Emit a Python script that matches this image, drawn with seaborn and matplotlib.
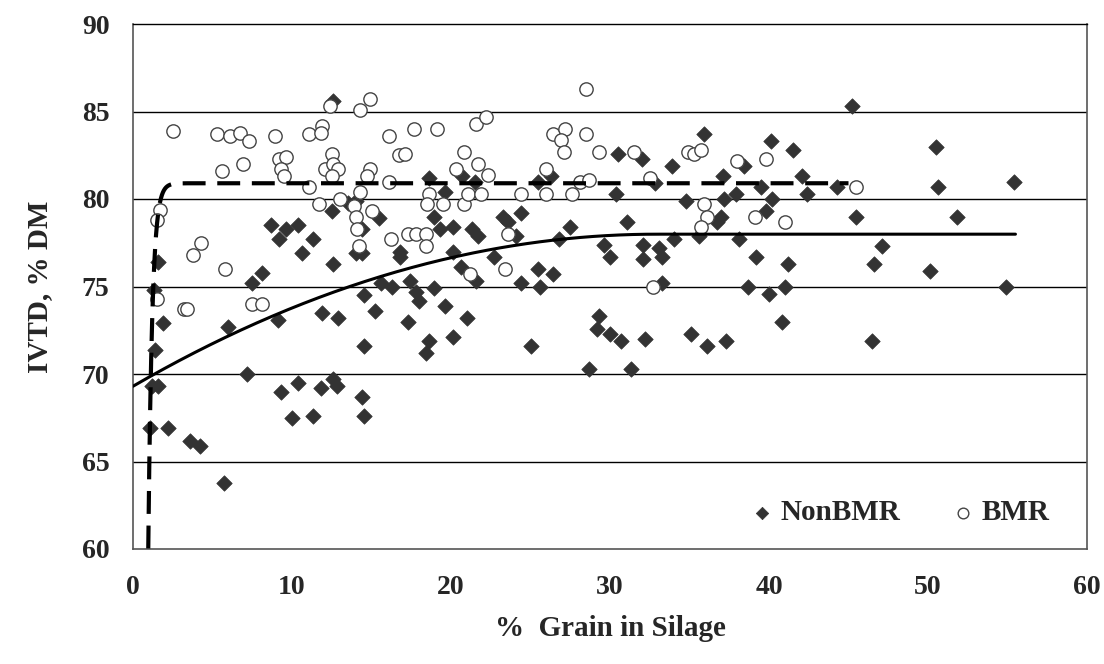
import numpy as np
import pandas as pd
import matplotlib
matplotlib.use("Agg")
import matplotlib.pyplot as plt
import seaborn as sns

# ---------------- data ----------------
nonbmr_x = [8.7, 9.6, 10.4, 9.2, 11.3, 10.6, 1.6, 8.1, 7.5, 1.3, 1.9, 6.0, 9.1, 11.9,
            1.4, 7.2, 1.2, 1.6, 9.3, 10.4, 11.8, 1.1, 2.2, 3.6, 4.2, 10.0, 11.3, 5.7,
            12.6, 18.6, 20.7, 21.5, 19.6, 13.5, 14.0, 12.5, 15.5, 18.9, 20.1, 19.3,
            21.3, 21.7, 23.3, 23.6, 24.4, 14.4, 14.0, 14.4, 16.8, 16.8, 12.6, 20.1,
            22.7, 20.6, 21.6, 15.6, 16.3, 17.4, 18.9, 14.5, 17.8, 18.0, 24.4, 12.9,
            15.2, 17.3, 19.6, 21.0, 14.5, 18.6, 18.4, 20.1, 12.6, 12.8, 14.4, 14.5,
            25.6, 33.3, 29.3, 29.2, 30.0, 30.7, 32.2, 35.1, 36.1, 25.0, 28.7, 31.3,
            38.7, 40.0, 41.0, 54.9, 40.8, 37.3, 46.5, 35.9, 30.5, 32.0, 33.9, 25.5,
            26.3, 32.8, 30.4, 34.8, 24.1, 27.5, 31.1, 26.8, 29.6, 30.0, 32.1, 32.1,
            33.1, 33.3, 34.0, 35.6, 25.5, 26.4, 45.2, 40.1, 41.5, 50.5, 38.4, 37.1,
            42.1, 39.5, 37.9, 42.4, 44.3, 50.6, 55.4, 37.2, 40.2, 39.8, 37.0, 36.7,
            45.5, 51.8, 38.1, 47.1, 39.2, 41.2, 46.6, 50.1]
nonbmr_y = [78.5, 78.3, 78.5, 77.7, 77.7, 76.9, 76.4, 75.8, 75.2, 74.8, 72.9, 72.7, 73.1, 73.5,
            71.4, 70.0, 69.3, 69.3, 69.0, 69.5, 69.2, 66.9, 66.9, 66.2, 65.9, 67.5, 67.6, 63.8,
            85.6, 81.2, 81.3, 81.0, 80.4, 79.8, 79.9, 79.3, 78.9, 79.0, 78.4, 78.3,
            78.3, 77.9, 79.0, 78.7, 79.2, 78.3, 76.9, 76.9, 77.0, 76.7, 76.3, 77.0,
            76.7, 76.1, 75.3, 75.2, 75.0, 75.3, 74.9, 74.5, 74.7, 74.2, 75.2, 73.2,
            73.6, 73.0, 73.9, 73.2, 71.6, 71.9, 71.2, 72.1, 69.7, 69.3, 68.7, 67.6,
            75.0, 75.2, 73.3, 72.6, 72.3, 71.9, 72.0, 72.3, 71.6, 71.6, 70.3, 70.3,
            75.0, 74.6, 75.0, 75.0, 73.0, 71.9, 71.9, 83.7, 82.6, 82.3, 81.9, 81.0,
            81.3, 80.9, 80.3, 79.9, 77.9, 78.4, 78.7, 77.7, 77.4, 76.7, 77.4, 76.6,
            77.2, 76.7, 77.7, 77.9, 76.0, 75.7, 85.3, 83.3, 82.8, 83.0, 81.9, 81.3,
            81.3, 80.7, 80.3, 80.3, 80.7, 80.7, 81.0, 80.0, 80.0, 79.3, 79.0, 78.7,
            79.0, 79.0, 77.7, 77.3, 76.7, 76.3, 76.3, 75.9]

bmr_x = [2.5, 5.3, 6.1, 6.7, 7.3, 8.9, 11.1, 11.9, 11.8, 5.6, 6.9, 9.2, 9.6, 9.3, 9.5,
         11.1, 11.7, 12.1, 1.7, 1.5, 4.3, 3.8, 5.8, 1.5, 3.2, 3.4, 7.5, 8.1,
         14.9, 12.4, 14.3, 16.1, 17.7, 19.1, 21.6, 22.2, 12.5, 12.6, 12.9, 12.5,
         14.9, 14.7, 16.1, 16.7, 17.1, 20.3, 20.8, 21.7, 22.3, 18.6, 18.5, 19.5,
         20.8, 21.1, 21.9, 24.4, 14.3, 13.0, 13.9, 14.0, 15.0, 14.1, 14.2, 16.2,
         17.3, 17.8, 18.4, 18.4, 23.6, 23.4, 21.2,
         28.5, 26.4, 27.2, 26.9, 27.1, 28.5, 29.3, 31.5, 34.9, 35.3, 35.7, 26.0,
         28.1, 28.7, 32.5, 26.0, 27.6, 35.9, 36.1, 35.7, 32.7,
         38.0, 39.8, 45.5, 39.1, 41.0]
bmr_y = [83.9, 83.7, 83.6, 83.8, 83.3, 83.6, 83.7, 84.2, 83.8, 81.6, 82.0, 82.3, 82.4, 81.7, 81.3,
         80.7, 79.7, 81.7, 79.4, 78.8, 77.5, 76.8, 76.0, 74.3, 73.7, 73.7, 74.0, 74.0,
         85.7, 85.3, 85.1, 83.6, 84.0, 84.0, 84.3, 84.7, 82.6, 82.0, 81.7, 81.3,
         81.7, 81.3, 81.0, 82.5, 82.6, 81.7, 82.7, 82.0, 81.4, 80.3, 79.7, 79.7,
         79.7, 80.3, 80.3, 80.3, 80.4, 80.0, 79.6, 79.0, 79.3, 78.3, 77.3, 77.7,
         78.0, 78.0, 78.0, 77.3, 78.0, 76.0, 75.7,
         86.3, 83.7, 84.0, 83.4, 82.7, 83.7, 82.7, 82.7, 82.7, 82.6, 82.8, 81.7,
         81.0, 81.1, 81.2, 80.3, 80.3, 79.7, 79.0, 78.4, 75.0,
         82.2, 82.3, 80.7, 79.0, 78.7]

# fitted trend lines (model parameters)
nonbmr_fit_a, nonbmr_fit_b, nonbmr_fit_c = 69.3, 0.527, -0.00799   # quadratic-plateau
nonbmr_fit_xmax = 55.5
bmr_fit_plateau, bmr_fit_amp, bmr_fit_rate = 80.9, 971.0, 4.0      # exponential rise
bmr_fit_xmin, bmr_fit_xmax = 0.96, 45.0

x_ticks = [0, 10, 20, 30, 40, 50, 60]
y_ticks = [60, 65, 70, 75, 80, 85, 90]

# ---------------- build frames ----------------
df_non = pd.DataFrame({"x": nonbmr_x, "y": nonbmr_y})
df_bmr = pd.DataFrame({"x": bmr_x, "y": bmr_y})

xs_non = np.linspace(0, nonbmr_fit_xmax, 400)
x0 = -nonbmr_fit_b / (2 * nonbmr_fit_c)
xq = np.minimum(xs_non, x0)
ys_non = nonbmr_fit_a + nonbmr_fit_b * xq + nonbmr_fit_c * xq ** 2
fit_non = pd.DataFrame({"x": xs_non, "y": ys_non})

xs_bmr = np.concatenate([np.linspace(bmr_fit_xmin, 3, 300), np.linspace(3, bmr_fit_xmax, 100)])
ys_bmr = bmr_fit_plateau - bmr_fit_amp * np.exp(-bmr_fit_rate * xs_bmr)
fit_bmr = pd.DataFrame({"x": xs_bmr, "y": ys_bmr})

# ---------------- plot ----------------
sns.set_style("white")
plt.rcParams["font.family"] = ["Liberation Serif", "DejaVu Serif"]
plt.rcParams["font.weight"] = "bold"

fig = plt.figure(figsize=(11.04, 6.64), dpi=100)
ax = fig.add_axes([133 / 1104, 1 - 549 / 664, (1087 - 133) / 1104, (549 - 24) / 664])

for yv in y_ticks[1:-1]:
    ax.axhline(yv, color="black", lw=1.0, zorder=0)

sns.scatterplot(data=df_non, x="x", y="y", ax=ax, marker="D", s=62,
                color="#333333", edgecolor="#333333", linewidth=0.5,
                label="NonBMR", zorder=3)
sns.scatterplot(data=df_bmr, x="x", y="y", ax=ax, marker="o", s=92,
                facecolor="white", edgecolor="#444444", linewidth=1.0,
                label="BMR", zorder=4)

sns.lineplot(data=fit_non, x="x", y="y", ax=ax, color="black", lw=2.2,
             sort=False, legend=False, zorder=5)
sns.lineplot(data=fit_bmr, x="x", y="y", ax=ax, color="black", lw=3.0,
             dashes=False, sort=False, legend=False, zorder=5)
ax.lines[-1].set_dashes((5.5, 2.8))

ax.set_xlim(0, 60)
ax.set_ylim(60, 90)
ax.set_xticks(x_ticks)
ax.set_yticks(y_ticks)
ax.tick_params(axis="both", direction="out", length=7, width=1, color="#444444",
               labelsize=20)
ax.tick_params(axis="y", pad=10)
ax.tick_params(axis="x", pad=12)
for lab in ax.get_xticklabels() + ax.get_yticklabels():
    lab.set_fontweight("bold")

ax.spines["top"].set_color("black")
ax.spines["top"].set_linewidth(1.0)
for side in ["left", "bottom", "right"]:
    ax.spines[side].set_color("#555555")
    ax.spines[side].set_linewidth(1.2)

ax.set_xlabel("%  Grain in Silage", fontsize=21, fontweight="bold")
ax.set_ylabel("IVTD, % DM", fontsize=21, fontweight="bold")
ax.xaxis.label.set_va("center")
ax.yaxis.label.set_va("center")
ax.xaxis.set_label_coords(0.5, (549 - 628) / 525)
ax.yaxis.set_label_coords((40 - 133) / 954, 0.5)

leg = ax.legend(loc="center left", bbox_to_anchor=((750 - 133) / 954, (549 - 513) / 525),
                ncol=2, frameon=False, prop={"weight": "bold", "size": 21},
                handlelength=0.8, handletextpad=0.25, columnspacing=1.75,
                borderpad=0, borderaxespad=0, markerscale=0.8)

fig.savefig("out.png", dpi=100)
